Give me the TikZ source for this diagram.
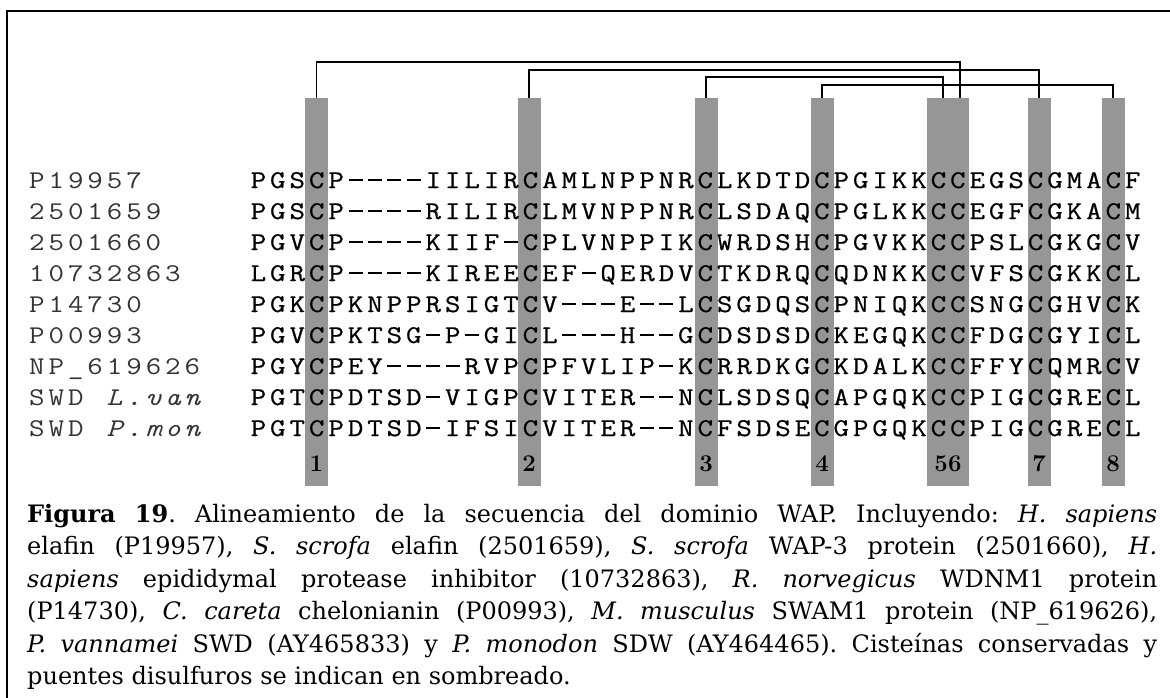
\documentclass[tikz,border=0pt]{standalone}
\usepackage{fontspec}
\newfontfamily\capfont{DejaVu Serif}
\newfontfamily\seqfont[FakeBold=0.6]{Latin Modern Mono}
\usetikzlibrary{calc}
\definecolor{barc}{RGB}{150,150,150}
\newlength\pitch \setlength\pitch{19.43pt}
\newcommand\seqchar[1]{\ifx-#1\makebox[\pitch]{\rule[0.27em]{0.72\pitch}{0.065em}}\else\makebox[\pitch]{\scalebox{1.18}[1]{#1}}\fi}
\def\seqloop#1{\ifx#1\relax\else\seqchar{#1}\expandafter\seqloop\fi}
\newcommand\seqline[1]{\seqloop#1\relax}
\tikzset{
  seqtxt/.style={anchor=base west, inner sep=0pt, font=\seqfont\fontsize{25.5}{25.5}\selectfont},
  labtxt/.style={anchor=base west, inner sep=0pt, font=\ttfamily\fontsize{25.5}{25.5}\selectfont, text=black!80},
  cbar/.style={fill=barc, draw=none, inner sep=0pt, minimum width=23pt, minimum height=388pt},
  bridge/.style={line width=1.5pt, black},
  numtxt/.style={anchor=base, inner sep=0pt, font=\rmfamily\bfseries\fontsize{24}{24}\selectfont},
}
\begin{document}
\begin{tikzpicture}[x=1pt,y=-1pt]
\useasboundingbox (0,0) rectangle (1170,698);
\fill[white] (0,0) rectangle (1170,698);
\draw[line width=2.5pt] (7,698) -- (7,11) -- (1170,11);
% bars (top 98, bottom 486)
\node[cbar] (b1) at (316.5,292) {};
\node[cbar] (b2) at (529,292) {};
\node[cbar] (b3) at (706,292) {};
\node[cbar] (b4) at (822,292) {};
\node[cbar, minimum width=42pt] (b56) at (948,292) {};
\node[cbar] (b7) at (1039,292) {};
\node[cbar] (b8) at (1113,292) {};
\coordinate (t1) at (b1.north);
\coordinate (t2) at (b2.north);
\coordinate (t3) at (b3.north);
\coordinate (t4) at (b4.north);
\coordinate (t5) at ($(b56.north)+(-5,0)$);
\coordinate (t6) at ($(b56.north)+(12,0)$);
\coordinate (t7) at (b7.north);
\coordinate (t8) at (b8.north);
\coordinate (L1) at (0,62);
\coordinate (L2) at (0,70);
\coordinate (L3) at (0,77);
\coordinate (L4) at (0,85);
% disulfide bridges
\draw[bridge] (t1) -- (t1 |- L1) -- (t6 |- L1) -- (t6);
\draw[bridge] (t2) -- (t2 |- L2) -- (t7 |- L2) -- (t7);
\draw[bridge] (t3) -- (t3 |- L3) -- (t5 |- L3) -- (t5);
\draw[bridge] (t4) -- (t4 |- L4) -- (t8 |- L4) -- (t8);
% labels
\node[labtxt] (l1) at (27,188) {\seqline{P19957}};
\node[labtxt] (l2) at (27,219) {\seqline{2501659}};
\node[labtxt] (l3) at (27,250) {\seqline{2501660}};
\node[labtxt] (l4) at (27,281) {\seqline{10732863}};
\node[labtxt] (l5) at (27,312) {\seqline{P14730}};
\node[labtxt] (l6) at (27,343) {\seqline{P00993}};
\node[labtxt] (l7) at (27,374) {\seqline{NP\_619626}};
\node[labtxt] (l8) at (27,405) {\seqline{SWD~}\itshape\seqline{L.van}};
\node[labtxt] (l9) at (27,436) {\seqline{SWD~}\itshape\seqline{P.mon}};
% sequences
\node[seqtxt] (s1) at (248.5,188) {\seqline{PGSCP----IILIRCAMLNPPNRCLKDTDCPGIKKCCEGSCGMACF}};
\node[seqtxt] (s2) at (248.5,219) {\seqline{PGSCP----RILIRCLMVNPPNRCLSDAQCPGLKKCCEGFCGKACM}};
\node[seqtxt] (s3) at (248.5,250) {\seqline{PGVCP----KIIF-CPLVNPPIKCWRDSHCPGVKKCCPSLCGKGCV}};
\node[seqtxt] (s4) at (248.5,281) {\seqline{LGRCP----KIREECEF-QERDVCTKDRQCQDNKKCCVFSCGKKCL}};
\node[seqtxt] (s5) at (248.5,312) {\seqline{PGKCPKNPPRSIGTCV---E--LCSGDQSCPNIQKCCSNGCGHVCK}};
\node[seqtxt] (s6) at (248.5,343) {\seqline{PGVCPKTSG-P-GICL---H--GCDSDSDCKEGQKCCFDGCGYICL}};
\node[seqtxt] (s7) at (248.5,374) {\seqline{PGYCPEY----RVPCPFVLIP-KCRRDKGCKDALKCCFFYCQMRCV}};
\node[seqtxt] (s8) at (248.5,405) {\seqline{PGTCPDTSD-VIGPCVITER--NCLSDSQCAPGQKCCPIGCGRECL}};
\node[seqtxt] (s9) at (248.5,436) {\seqline{PGTCPDTSD-IFSICVITER--NCFSDSECGPGQKCCPIGCGRECL}};
% numbers
\node[numtxt] (n1) at (316.5,471) {1};
\node[numtxt] (n2) at (529,471) {2};
\node[numtxt] (n3) at (706,471) {3};
\node[numtxt] (n4) at (822,471) {4};
\node[numtxt] (n56) at (948,471) {56};
\node[numtxt] (n7) at (1039,471) {7};
\node[numtxt] (n8) at (1113,471) {8};
% caption
\node[anchor=north west, inner sep=0pt, text width=1130pt, align=justify,
  font=\capfont\fontsize{24}{32.5}\selectfont] (cap) at (27,504) {%
\frenchspacing\spaceskip=0.32em plus 0.3em minus 0.12em\noindent
\textbf{Figura 19}. Alineamiento de la secuencia del dominio WAP. Incluyendo: \textit{H. sapiens}\linebreak
elafin (P19957), \textit{S. scrofa} elafin (2501659), \textit{S. scrofa} WAP-3 protein (2501660), \textit{H.}\linebreak
\textit{sapiens} epididymal protease inhibitor (10732863), \textit{R. norvegicus} WDNM1 protein\linebreak
(P14730), \textit{C. careta} chelonianin (P00993), \textit{M. musculus} SWAM1 protein (NP\_619626),\linebreak
\textit{P. vannamei} SWD (AY465833) y \textit{P. monodon} SDW (AY464465). Cisteínas conservadas y\linebreak
puentes disulfuros se indican en sombreado.};
\end{tikzpicture}
\end{document}
